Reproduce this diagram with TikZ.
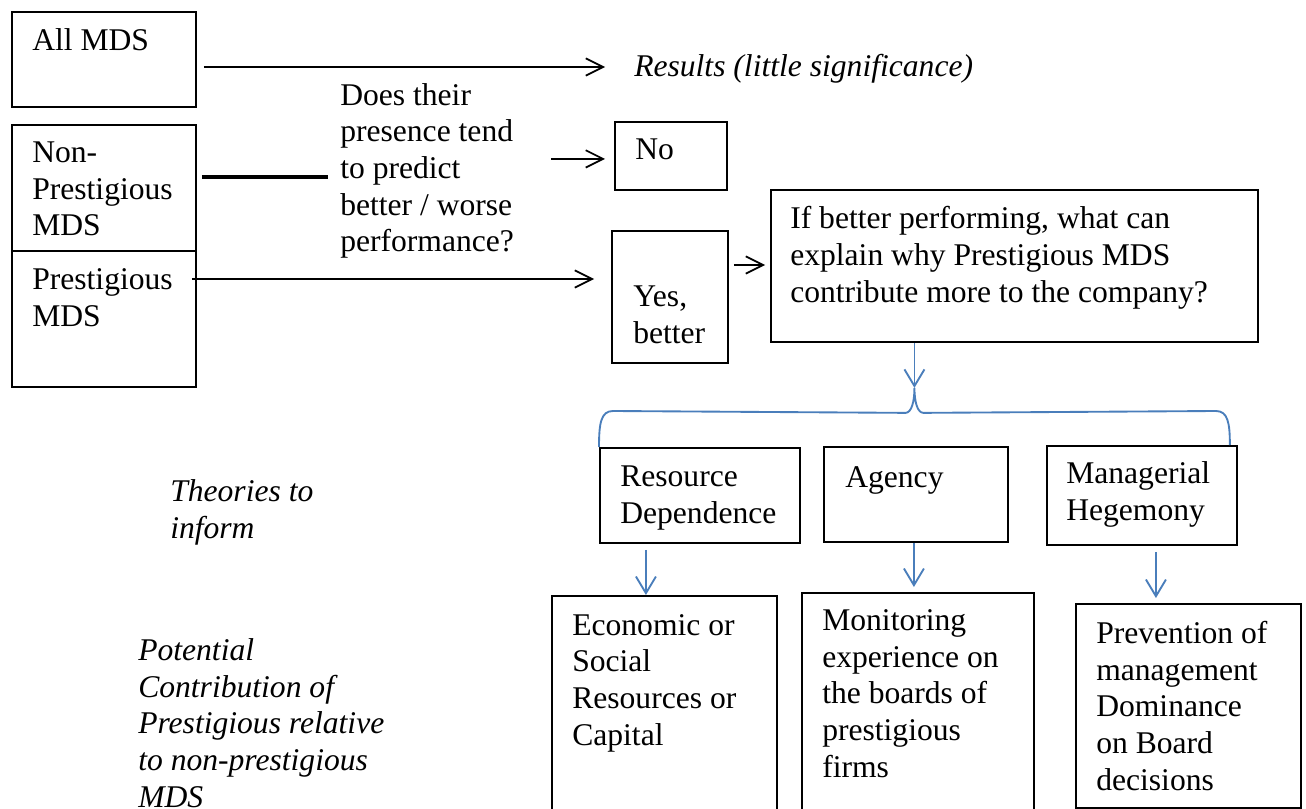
\documentclass[tikz,border=0pt]{standalone}
\usepackage{fontspec}
\setmainfont{Liberation Serif}
\usetikzlibrary{arrows.meta,calc}
\definecolor{cblue}{HTML}{4A7EBB}
\def\px{0.75pt}
\tikzset{
  every picture/.style={x=\px, y=-\px, font=\fontsize{23.7}{27.5}\selectfont},
  box/.style={draw, line width=1.4pt, inner sep=0pt, anchor=north west},
  cell/.style 2 args={box, minimum width=#1*\px, minimum height=#2*\px},
  % base west of a multi-line node is the baseline of its last line
  txt/.style={align=left, inner sep=0pt, anchor=base west},
  note/.style={txt, font=\fontsize{23.7}{27.5}\selectfont\itshape},
  arr/.style={-{Straight Barb[length=13pt,width=13pt]}, line width=1.3pt},
  heavy/.style={line width=2.6pt},
  bline/.style={cblue, line width=1.4pt},
  barr/.style={bline, -{Straight Barb[length=12.5pt,width=15pt]}},
}

\begin{document}
\begin{tikzpicture}
  \path[use as bounding box] (0,0) rectangle (1306,809);
  % left column
  \node[cell={184}{95}] (allbox) at (11,11) {};
  \node[cell={184}{126}] (nonbox) at (11,124) {};
  \node[cell={184}{136}] (presbox) at (11,250) {};
  \node[txt] (alltxt) at (32,51) {All MDS};
  \node[txt] (nontxt) at (32,236) {Non-\\Prestigious\\MDS};
  \node[txt] (prestxt) at (32,326) {Prestigious\\MDS};
  \node[note] (results) at (634,77) {Results (little significance)};
  \node[txt] (question) at (340,252) {Does their\\presence tend\\to predict\\better / worse\\performance?};
  % answers
  \node[cell={112}{68}] (nobox) at (614,121) {};
  \node[txt] (notxt) at (635,160) {No};
  \node[cell={116}{132}] (yesbox) at (611,230) {};
  \node[txt] (yestxt) at (633,343) {Yes,\\better};
  \node[cell={487}{152}] (bigbox) at (770,189) {};
  \node[txt] (bigtxt) at (790,302) {If better performing, what can\\explain why Prestigious MDS\\contribute more to the company?};
  % theories
  \node[cell={200}{95}] (rdbox) at (599,447) {};
  \node[txt] (rdtxt) at (620,523) {Resource\\Dependence};
  \node[cell={184}{95}] (agbox) at (823,446) {};
  \node[txt] (agtxt) at (845,487) {Agency};
  \node[cell={190}{99}] (mhbox) at (1046,445) {};
  \node[txt] (mhtxt) at (1066,520) {Managerial\\Hegemony};
  \node[note] (theories) at (170,538) {Theories to\\inform};
  % contributions
  \node[cell={225}{230}] (ecobox) at (551,595) {};
  \node[txt] (ecotxt) at (572,745) {Economic or\\Social\\Resources or\\Capital};
  \node[cell={232}{230}] (monbox) at (801,592) {};
  \node[txt] (montxt) at (822,777) {Monitoring\\experience on\\the boards of\\prestigious\\firms};
  \node[cell={225}{204}] (prevbox) at (1075,603) {};
  \node[txt] (prevtxt) at (1096,790) {Prevention of\\management\\Dominance\\on Board\\decisions};
  \node[note] (potential) at (138,807) {Potential\\Contribution of\\Prestigious relative\\to non-prestigious\\MDS};
  % black connectors
  \draw[arr] ($(allbox.north east)+(7,56)$) coordinate (a1) -- ($(a1 -| results.west)+(-29,0)$);
  \draw[heavy] ($(nonbox.north east)+(5,53)$) coordinate (a2) -- ($(a2 -| question.west)+(-12,0)$);
  \draw[arr] ($(question.east |- nobox.west)+(37,3)$) -- ($(nobox.west)+(-9,3)$);
  \draw[arr] ($(presbox.north east)+(-5,29)$) coordinate (a3) -- ($(a3 -| yesbox.west)+(-17,0)$);
  \draw[arr] ($(yesbox.north east)+(5,35)$) coordinate (a4) -- ($(a4 -| bigbox.west)+(-5,0)$);
  % blue connectors
  \coordinate (peak) at ($(bigbox.south)+(-100,45)$);
  \draw[barr] (peak |- bigbox.south) -- (peak);
  \draw[bline] (rdbox.north west) .. controls ($(rdbox.north west)+(0,-24)$) and ($(rdbox.north west)+(2,-36)$) .. ($(rdbox.north west)+(14,-36)$)
    -- ($(peak)+(-9,25)$) .. controls ($(peak)+(-3,25)$) and ($(peak)+(0,14)$) .. (peak)
    .. controls ($(peak)+(0,14)$) and ($(peak)+(3,25)$) .. ($(peak)+(9,25)$)
    -- ($(mhbox.north east)+(-22,-34)$) .. controls ($(mhbox.north east)+(-10,-34)$) and ($(mhbox.north east)+(-8,-22)$) .. ($(mhbox.north east)+(-8,0)$);
  \draw[barr] ($(rdbox.south)+(-54,6)$) coordinate (a5) -- (a5 |- ecobox.north);
  \draw[barr] ($(agbox.south)+(-2,0)$) coordinate (a6) -- ($(a6 |- monbox.north)+(0,-5)$);
  \draw[barr] ($(mhbox.south)+(14,6)$) coordinate (a7) -- ($(a7 |- prevbox.north)+(0,-5)$);
\end{tikzpicture}
\end{document}
